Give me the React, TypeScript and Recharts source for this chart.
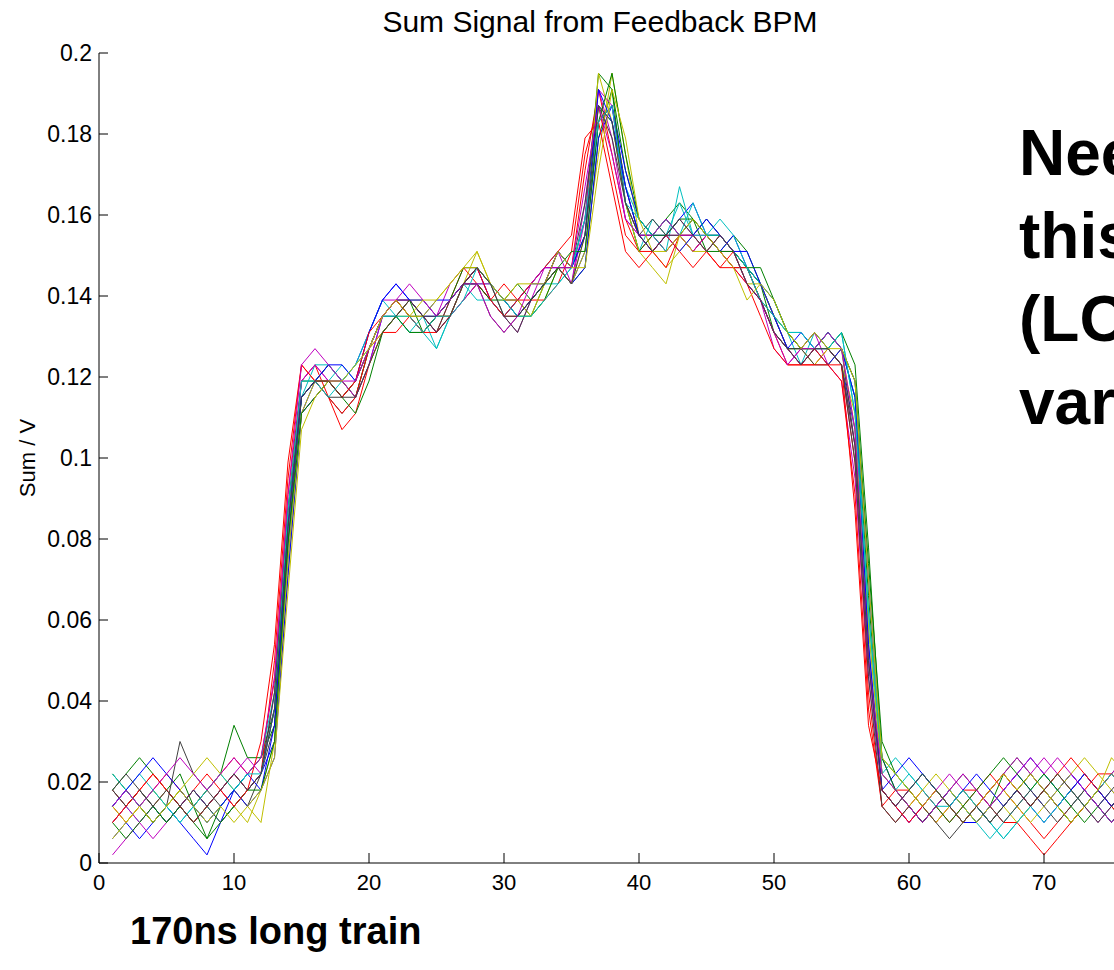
import React from "react";
import { Line, LineChart, XAxis, YAxis } from "recharts";

// bunch index along the train
const sampleIndex = [
  1, 2, 3, 4, 5, 6, 7, 8, 9, 10, 11, 12, 13, 14, 15, 16, 17, 18, 19, 20,
  21, 22, 23, 24, 25, 26, 27, 28, 29, 30, 31, 32, 33, 34, 35, 36, 37, 38, 39, 40,
  41, 42, 43, 44, 45, 46, 47, 48, 49, 50, 51, 52, 53, 54, 55, 56, 57, 58, 59, 60,
  61, 62, 63, 64, 65, 66, 67, 68, 69, 70, 71, 72, 73, 74, 75, 76,
];

// sum signal (V), one array per pulse
const pulse01 = [
  0.010, 0.014, 0.018, 0.014, 0.010, 0.014, 0.018, 0.014, 0.018, 0.022, 0.018,
  0.022, 0.030, 0.075,
  0.111, 0.119, 0.123, 0.119, 0.115, 0.123, 0.135, 0.139, 0.139, 0.135, 0.135, 0.139, 0.143, 0.143, 0.139, 0.135,
  0.139, 0.143, 0.143, 0.147, 0.143, 0.151, 0.183, 0.187, 0.167, 0.155, 0.155, 0.151, 0.155, 0.159, 0.155, 0.155,
  0.151, 0.147, 0.143, 0.135, 0.127, 0.123, 0.127, 0.127, 0.123,
  0.107, 0.050, 0.018,
  0.014, 0.010, 0.014, 0.018, 0.014, 0.010, 0.010, 0.014, 0.018, 0.022, 0.018, 0.014, 0.018, 0.022, 0.018, 0.014, 0.018, 0.014,
];
const pulse02 = [
  0.018, 0.022, 0.026, 0.022, 0.018, 0.022, 0.014, 0.006, 0.014, 0.018, 0.022,
  0.026, 0.034, 0.079,
  0.115, 0.119, 0.119, 0.115, 0.119, 0.127, 0.135, 0.139, 0.135, 0.131, 0.135, 0.135, 0.143, 0.147, 0.143, 0.139,
  0.135, 0.135, 0.143, 0.147, 0.143, 0.147, 0.179, 0.191, 0.171, 0.159, 0.155, 0.159, 0.163, 0.159, 0.151, 0.151,
  0.155, 0.151, 0.143, 0.135, 0.131, 0.127, 0.127, 0.131, 0.127,
  0.115, 0.066, 0.022,
  0.018, 0.014, 0.010, 0.014, 0.018, 0.014, 0.010, 0.014, 0.022, 0.026, 0.022, 0.018, 0.014, 0.018, 0.022, 0.018, 0.014, 0.010,
];
const pulse03 = [
  0.014, 0.010, 0.014, 0.018, 0.022, 0.018, 0.014, 0.018, 0.022, 0.026, 0.022,
  0.026, 0.045, 0.091,
  0.119, 0.123, 0.115, 0.107, 0.111, 0.123, 0.131, 0.135, 0.139, 0.135, 0.131, 0.139, 0.147, 0.143, 0.139, 0.143,
  0.139, 0.139, 0.143, 0.151, 0.147, 0.171, 0.191, 0.175, 0.159, 0.151, 0.155, 0.151, 0.155, 0.155, 0.151, 0.147,
  0.151, 0.143, 0.139, 0.131, 0.127, 0.123, 0.123, 0.127, 0.123,
  0.099, 0.042, 0.014,
  0.018, 0.018, 0.014, 0.010, 0.014, 0.018, 0.018, 0.022, 0.018, 0.014, 0.010, 0.006, 0.010, 0.014, 0.018, 0.022, 0.022, 0.018,
];
const pulse04 = [
  0.018, 0.014, 0.010, 0.014, 0.010, 0.014, 0.018, 0.014, 0.010, 0.014, 0.018,
  0.022, 0.038, 0.083,
  0.115, 0.119, 0.119, 0.123, 0.119, 0.127, 0.135, 0.135, 0.131, 0.135, 0.127, 0.135, 0.139, 0.143, 0.143, 0.139,
  0.135, 0.139, 0.143, 0.143, 0.147, 0.155, 0.187, 0.183, 0.163, 0.151, 0.159, 0.155, 0.163, 0.155, 0.159, 0.155,
  0.151, 0.147, 0.143, 0.135, 0.131, 0.123, 0.131, 0.127, 0.131,
  0.111, 0.058, 0.022,
  0.026, 0.022, 0.018, 0.014, 0.014, 0.018, 0.014, 0.010, 0.006, 0.010, 0.014, 0.018, 0.014, 0.018, 0.022, 0.018, 0.014, 0.018,
];
const pulse05 = [
  0.002, 0.006, 0.010, 0.014, 0.018, 0.014, 0.010, 0.014, 0.018, 0.022, 0.026,
  0.022, 0.042, 0.087,
  0.119, 0.123, 0.119, 0.115, 0.119, 0.131, 0.139, 0.139, 0.135, 0.131, 0.135, 0.143, 0.147, 0.147, 0.139, 0.135,
  0.131, 0.139, 0.147, 0.151, 0.143, 0.163, 0.191, 0.179, 0.159, 0.155, 0.151, 0.155, 0.159, 0.155, 0.155, 0.151,
  0.147, 0.143, 0.139, 0.127, 0.123, 0.127, 0.131, 0.123, 0.119,
  0.095, 0.046, 0.018,
  0.014, 0.010, 0.014, 0.018, 0.022, 0.018, 0.014, 0.010, 0.014, 0.018, 0.022, 0.026, 0.022, 0.018, 0.014, 0.010, 0.014, 0.018,
];
const pulse06 = [
  0.010, 0.014, 0.018, 0.014, 0.018, 0.014, 0.010, 0.014, 0.018, 0.014, 0.010,
  0.018, 0.030, 0.071,
  0.111, 0.115, 0.119, 0.119, 0.115, 0.123, 0.131, 0.135, 0.139, 0.139, 0.135, 0.135, 0.143, 0.151, 0.143, 0.139,
  0.135, 0.135, 0.139, 0.147, 0.143, 0.151, 0.175, 0.195, 0.175, 0.155, 0.151, 0.147, 0.151, 0.155, 0.151, 0.155,
  0.151, 0.147, 0.143, 0.135, 0.127, 0.127, 0.123, 0.127, 0.123,
  0.111, 0.062, 0.026,
  0.022, 0.018, 0.014, 0.010, 0.014, 0.018, 0.014, 0.018, 0.014, 0.010, 0.014, 0.018, 0.022, 0.018, 0.014, 0.018, 0.022, 0.018,
];
const pulse07 = [
  0.014, 0.018, 0.014, 0.010, 0.014, 0.030, 0.022, 0.018, 0.014, 0.018, 0.014,
  0.022, 0.034, 0.079,
  0.115, 0.119, 0.115, 0.111, 0.115, 0.127, 0.135, 0.139, 0.135, 0.135, 0.131, 0.139, 0.143, 0.143, 0.135, 0.131,
  0.135, 0.139, 0.143, 0.147, 0.147, 0.155, 0.183, 0.187, 0.167, 0.155, 0.155, 0.159, 0.155, 0.151, 0.155, 0.151,
  0.147, 0.147, 0.139, 0.131, 0.127, 0.127, 0.123, 0.123, 0.127,
  0.103, 0.054, 0.018,
  0.014, 0.018, 0.014, 0.010, 0.006, 0.010, 0.014, 0.018, 0.022, 0.018, 0.014, 0.018, 0.014, 0.010, 0.014, 0.018, 0.014, 0.018,
];
const pulse08 = [
  0.006, 0.010, 0.006, 0.010, 0.014, 0.010, 0.006, 0.002, 0.010, 0.018, 0.022,
  0.018, 0.026, 0.071,
  0.111, 0.115, 0.119, 0.119, 0.123, 0.131, 0.139, 0.143, 0.139, 0.135, 0.139, 0.139, 0.143, 0.147, 0.139, 0.135,
  0.139, 0.143, 0.147, 0.147, 0.143, 0.147, 0.179, 0.187, 0.171, 0.159, 0.155, 0.155, 0.159, 0.163, 0.155, 0.151,
  0.155, 0.147, 0.143, 0.139, 0.131, 0.127, 0.127, 0.131, 0.127,
  0.119, 0.070, 0.026,
  0.018, 0.014, 0.010, 0.014, 0.018, 0.014, 0.010, 0.014, 0.018, 0.022, 0.026, 0.022, 0.018, 0.022, 0.018, 0.014, 0.010, 0.014,
];
const pulse09 = [
  0.022, 0.018, 0.014, 0.010, 0.014, 0.018, 0.014, 0.018, 0.022, 0.034, 0.026,
  0.026, 0.038, 0.087,
  0.119, 0.119, 0.123, 0.119, 0.115, 0.127, 0.135, 0.139, 0.139, 0.131, 0.135, 0.139, 0.147, 0.147, 0.143, 0.139,
  0.139, 0.135, 0.139, 0.147, 0.147, 0.159, 0.195, 0.191, 0.163, 0.151, 0.155, 0.159, 0.155, 0.159, 0.155, 0.155,
  0.151, 0.147, 0.143, 0.131, 0.127, 0.127, 0.127, 0.131, 0.127,
  0.119, 0.074, 0.030,
  0.022, 0.018, 0.022, 0.018, 0.014, 0.010, 0.014, 0.010, 0.014, 0.018, 0.022, 0.018, 0.014, 0.010, 0.014, 0.018, 0.022, 0.026,
];
const pulse10 = [
  0.018, 0.014, 0.018, 0.022, 0.018, 0.014, 0.018, 0.022, 0.018, 0.022, 0.018,
  0.022, 0.050, 0.095,
  0.123, 0.119, 0.115, 0.111, 0.115, 0.127, 0.131, 0.131, 0.135, 0.131, 0.135, 0.135, 0.139, 0.143, 0.139, 0.135,
  0.135, 0.139, 0.139, 0.143, 0.151, 0.175, 0.187, 0.171, 0.155, 0.151, 0.151, 0.147, 0.155, 0.151, 0.155, 0.151,
  0.147, 0.147, 0.139, 0.131, 0.123, 0.123, 0.123, 0.123, 0.119,
  0.091, 0.038, 0.014,
  0.010, 0.014, 0.018, 0.014, 0.010, 0.014, 0.018, 0.014, 0.010, 0.010, 0.006, 0.002, 0.006, 0.010, 0.014, 0.018, 0.014, 0.010,
];
const pulse11 = [
  0.014, 0.018, 0.022, 0.018, 0.014, 0.010, 0.014, 0.010, 0.014, 0.018, 0.022,
  0.026, 0.042, 0.083,
  0.115, 0.123, 0.123, 0.119, 0.123, 0.131, 0.139, 0.135, 0.131, 0.131, 0.127, 0.135, 0.143, 0.139, 0.139, 0.135,
  0.139, 0.143, 0.147, 0.151, 0.147, 0.159, 0.187, 0.183, 0.167, 0.159, 0.155, 0.151, 0.167, 0.155, 0.155, 0.159,
  0.155, 0.147, 0.143, 0.139, 0.131, 0.131, 0.127, 0.131, 0.127,
  0.115, 0.062, 0.022,
  0.018, 0.022, 0.018, 0.014, 0.018, 0.014, 0.010, 0.006, 0.010, 0.014, 0.018, 0.022, 0.018, 0.014, 0.018, 0.014, 0.010, 0.014,
];
const pulse12 = [
  0.010, 0.014, 0.010, 0.006, 0.010, 0.014, 0.018, 0.014, 0.018, 0.014, 0.018,
  0.022, 0.038, 0.083,
  0.119, 0.123, 0.119, 0.119, 0.115, 0.123, 0.135, 0.139, 0.139, 0.135, 0.131, 0.135, 0.139, 0.143, 0.143, 0.139,
  0.139, 0.143, 0.147, 0.147, 0.143, 0.159, 0.191, 0.187, 0.163, 0.155, 0.151, 0.155, 0.155, 0.151, 0.155, 0.151,
  0.151, 0.143, 0.139, 0.131, 0.127, 0.123, 0.127, 0.127, 0.123,
  0.103, 0.050, 0.018,
  0.014, 0.018, 0.022, 0.018, 0.014, 0.010, 0.014, 0.018, 0.022, 0.026, 0.022, 0.018, 0.014, 0.018, 0.022, 0.018, 0.022, 0.026,
];
const pulse13 = [
  0.014, 0.010, 0.014, 0.018, 0.014, 0.018, 0.022, 0.026, 0.022, 0.018, 0.014,
  0.010, 0.030, 0.075,
  0.111, 0.119, 0.119, 0.115, 0.119, 0.127, 0.131, 0.135, 0.135, 0.135, 0.139, 0.143, 0.147, 0.151, 0.143, 0.139,
  0.139, 0.135, 0.143, 0.147, 0.143, 0.155, 0.195, 0.183, 0.163, 0.151, 0.147, 0.143, 0.155, 0.151, 0.151, 0.155,
  0.151, 0.143, 0.143, 0.135, 0.131, 0.127, 0.127, 0.123, 0.127,
  0.107, 0.058, 0.022,
  0.018, 0.014, 0.018, 0.022, 0.018, 0.014, 0.010, 0.014, 0.018, 0.014, 0.010, 0.014, 0.018, 0.022, 0.026, 0.022, 0.018, 0.014,
];
const pulse14 = [
  0.018, 0.014, 0.018, 0.014, 0.010, 0.014, 0.018, 0.014, 0.010, 0.014, 0.018,
  0.022, 0.042, 0.087,
  0.115, 0.119, 0.115, 0.115, 0.119, 0.127, 0.135, 0.135, 0.139, 0.135, 0.135, 0.139, 0.143, 0.147, 0.143, 0.135,
  0.131, 0.139, 0.143, 0.151, 0.147, 0.163, 0.187, 0.179, 0.163, 0.155, 0.159, 0.155, 0.155, 0.155, 0.159, 0.155,
  0.151, 0.147, 0.139, 0.135, 0.127, 0.127, 0.131, 0.127, 0.123,
  0.099, 0.046, 0.014,
  0.010, 0.014, 0.010, 0.014, 0.018, 0.022, 0.018, 0.014, 0.010, 0.014, 0.018, 0.014, 0.010, 0.014, 0.018, 0.014, 0.018, 0.022,
];
const pulse15 = [
  0.014, 0.018, 0.022, 0.026, 0.022, 0.018, 0.014, 0.010, 0.014, 0.018, 0.014,
  0.018, 0.034, 0.083,
  0.115, 0.119, 0.123, 0.123, 0.119, 0.131, 0.139, 0.143, 0.139, 0.139, 0.135, 0.139, 0.143, 0.147, 0.143, 0.139,
  0.135, 0.139, 0.143, 0.151, 0.147, 0.155, 0.191, 0.183, 0.167, 0.155, 0.151, 0.155, 0.151, 0.155, 0.159, 0.155,
  0.151, 0.151, 0.143, 0.135, 0.127, 0.131, 0.127, 0.123, 0.127,
  0.115, 0.054, 0.018,
  0.022, 0.026, 0.022, 0.018, 0.014, 0.018, 0.022, 0.018, 0.014, 0.018, 0.014, 0.010, 0.014, 0.018, 0.022, 0.018, 0.014, 0.018,
];
const pulse16 = [
  0.010, 0.006, 0.010, 0.014, 0.010, 0.014, 0.010, 0.006, 0.010, 0.014, 0.018,
  0.018, 0.030, 0.079,
  0.111, 0.115, 0.119, 0.115, 0.111, 0.119, 0.131, 0.135, 0.131, 0.131, 0.135, 0.139, 0.143, 0.143, 0.139, 0.139,
  0.143, 0.139, 0.143, 0.147, 0.151, 0.151, 0.183, 0.195, 0.175, 0.159, 0.155, 0.155, 0.159, 0.159, 0.155, 0.151,
  0.151, 0.147, 0.147, 0.139, 0.131, 0.127, 0.127, 0.127, 0.131,
  0.123, 0.078, 0.026,
  0.018, 0.014, 0.010, 0.014, 0.010, 0.014, 0.018, 0.022, 0.026, 0.022, 0.018, 0.022, 0.018, 0.014, 0.010, 0.014, 0.010, 0.014,
];
const pulse17 = [
  0.010, 0.014, 0.018, 0.022, 0.018, 0.014, 0.010, 0.014, 0.018, 0.014, 0.018,
  0.030, 0.054, 0.099,
  0.123, 0.119, 0.119, 0.115, 0.119, 0.131, 0.135, 0.139, 0.135, 0.131, 0.131, 0.135, 0.143, 0.147, 0.139, 0.135,
  0.139, 0.143, 0.147, 0.151, 0.155, 0.179, 0.183, 0.167, 0.151, 0.147, 0.151, 0.155, 0.151, 0.147, 0.151, 0.147,
  0.147, 0.143, 0.135, 0.127, 0.123, 0.123, 0.127, 0.123, 0.123,
  0.087, 0.034, 0.018,
  0.014, 0.010, 0.014, 0.018, 0.014, 0.010, 0.014, 0.018, 0.022, 0.018, 0.014, 0.018, 0.022, 0.026, 0.022, 0.018, 0.022, 0.018,
];
const pulse18 = [
  0.022, 0.018, 0.014, 0.018, 0.014, 0.010, 0.014, 0.018, 0.022, 0.018, 0.022,
  0.022, 0.038, 0.087,
  0.119, 0.119, 0.115, 0.119, 0.123, 0.127, 0.135, 0.135, 0.135, 0.131, 0.135, 0.135, 0.139, 0.147, 0.143, 0.139,
  0.135, 0.135, 0.139, 0.143, 0.147, 0.159, 0.183, 0.187, 0.163, 0.159, 0.155, 0.159, 0.155, 0.163, 0.155, 0.155,
  0.151, 0.147, 0.139, 0.135, 0.131, 0.131, 0.127, 0.127, 0.131,
  0.111, 0.062, 0.026,
  0.022, 0.018, 0.022, 0.018, 0.014, 0.018, 0.014, 0.010, 0.006, 0.010, 0.014, 0.010, 0.014, 0.018, 0.014, 0.018, 0.022, 0.018,
];
const pulse19 = [
  0.014, 0.018, 0.014, 0.018, 0.022, 0.026, 0.022, 0.018, 0.022, 0.026, 0.022,
  0.026, 0.046, 0.091,
  0.123, 0.127, 0.123, 0.119, 0.119, 0.127, 0.135, 0.139, 0.143, 0.139, 0.135, 0.139, 0.143, 0.143, 0.135, 0.131,
  0.135, 0.143, 0.147, 0.147, 0.147, 0.167, 0.187, 0.175, 0.159, 0.155, 0.155, 0.159, 0.155, 0.155, 0.151, 0.155,
  0.151, 0.143, 0.139, 0.131, 0.123, 0.127, 0.127, 0.131, 0.127,
  0.107, 0.050, 0.022,
  0.018, 0.014, 0.010, 0.014, 0.018, 0.022, 0.018, 0.014, 0.018, 0.022, 0.026, 0.022, 0.026, 0.022, 0.018, 0.014, 0.010, 0.014,
];
const pulse20 = [
  0.006, 0.010, 0.014, 0.010, 0.014, 0.018, 0.014, 0.010, 0.014, 0.010, 0.014,
  0.018, 0.026, 0.067,
  0.107, 0.115, 0.119, 0.119, 0.123, 0.127, 0.135, 0.139, 0.135, 0.139, 0.139, 0.143, 0.147, 0.147, 0.143, 0.139,
  0.143, 0.143, 0.143, 0.151, 0.147, 0.147, 0.171, 0.191, 0.179, 0.159, 0.151, 0.151, 0.155, 0.159, 0.155, 0.151,
  0.147, 0.139, 0.143, 0.139, 0.131, 0.127, 0.131, 0.127, 0.127,
  0.119, 0.070, 0.026,
  0.022, 0.018, 0.014, 0.018, 0.014, 0.010, 0.014, 0.018, 0.022, 0.018, 0.022, 0.018, 0.014, 0.010, 0.014, 0.018, 0.026, 0.022,
];
const pulse21 = [
  0.018, 0.022, 0.018, 0.014, 0.018, 0.014, 0.010, 0.014, 0.018, 0.022, 0.018,
  0.022, 0.038, 0.083,
  0.115, 0.119, 0.119, 0.115, 0.115, 0.123, 0.131, 0.135, 0.139, 0.135, 0.131, 0.135, 0.143, 0.147, 0.143, 0.135,
  0.135, 0.139, 0.143, 0.147, 0.143, 0.155, 0.187, 0.183, 0.163, 0.155, 0.151, 0.155, 0.159, 0.155, 0.151, 0.155,
  0.151, 0.143, 0.139, 0.131, 0.127, 0.123, 0.127, 0.127, 0.123,
  0.103, 0.050, 0.018,
  0.014, 0.018, 0.022, 0.018, 0.014, 0.010, 0.014, 0.010, 0.014, 0.018, 0.014, 0.018, 0.022, 0.018, 0.014, 0.010, 0.014, 0.018,
];

const pulses = [
  pulse01, pulse02, pulse03, pulse04, pulse05, pulse06, pulse07,
  pulse08, pulse09, pulse10, pulse11, pulse12, pulse13, pulse14,
  pulse15, pulse16, pulse17, pulse18, pulse19, pulse20, pulse21,
];

// matlab default line colour order
const lineColors = ["#0000ff", "#008000", "#ff0000", "#00bfbf", "#bf00bf", "#bfbf00", "#404040"];

const xTicks = [0, 10, 20, 30, 40, 50, 60, 70, 80];
const yTicks = [0, 0.02, 0.04, 0.06, 0.08, 0.1, 0.12, 0.14, 0.16, 0.18, 0.2];
const yTickLabels = ["0", "0.02", "0.04", "0.06", "0.08", "0.1", "0.12", "0.14", "0.16", "0.18", "0.2"];

const noteLines = ["Nee", "this", "(LO", "var"];

const font = '"Liberation Sans", Arial, Helvetica, sans-serif';

const rows = sampleIndex.map((x, i) => {
  const row: Record<string, number> = { x };
  pulses.forEach((p, k) => {
    row["p" + k] = p[i];
  });
  return row;
});

function YTick(props: any) {
  const { x, y, index } = props;
  return (
    <g>
      <line x1={x} x2={x + 9} y1={y} y2={y} stroke="#000" />
      <text x={x - 7} y={y + 8} textAnchor="end" fontSize={23} fontFamily={font} fill="#000">
        {yTickLabels[index]}
      </text>
    </g>
  );
}

function XTick(props: any) {
  const { x, y, payload } = props;
  return (
    <g>
      <line x1={x} x2={x} y1={y} y2={y - 10} stroke="#000" />
      <text x={x} y={y + 27} textAnchor="middle" fontSize={22} fontFamily={font} fill="#000">
        {payload.value}
      </text>
    </g>
  );
}

export default function App() {
  return (
    <div
      style={{
        position: "absolute",
        left: 0,
        top: 0,
        width: 1114,
        height: 970,
        overflow: "hidden",
        background: "#fff",
        fontFamily: font,
      }}
    >
      <LineChart
        width={1190}
        height={970}
        data={rows}
        margin={{ top: 53, right: 11, bottom: 67, left: 0 }}
      >
        <XAxis
          dataKey="x"
          type="number"
          domain={[0, 80]}
          ticks={xTicks}
          height={40}
          tickSize={0}
          tickMargin={0}
          tickLine={false}
          axisLine={{ stroke: "#000" }}
          tick={<XTick />}
          allowDataOverflow
        />
        <YAxis
          type="number"
          domain={[0, 0.2]}
          ticks={yTicks}
          width={99}
          tickSize={0}
          tickMargin={0}
          tickLine={false}
          axisLine={{ stroke: "#000" }}
          tick={<YTick />}
          interval={0}
        />
        {pulses.map((_, k) => (
          <Line
            key={k}
            type="linear"
            dataKey={"p" + k}
            stroke={lineColors[k % lineColors.length]}
            strokeWidth={1}
            dot={false}
            isAnimationActive={false}
          />
        ))}
      </LineChart>

      <div
        style={{
          position: "absolute",
          left: 600,
          top: 6,
          fontSize: 30,
          lineHeight: "32px",
          whiteSpace: "nowrap",
          transform: "translateX(-50%)",
        }}
      >
        Sum Signal from Feedback BPM
      </div>

      <div
        style={{
          position: "absolute",
          left: 28,
          top: 458,
          fontSize: 22,
          whiteSpace: "nowrap",
          transform: "translate(-50%, -50%) rotate(-90deg)",
        }}
      >
        Sum / V
      </div>

      {noteLines.map((t, i) => (
        <div
          key={t}
          style={{
            position: "absolute",
            left: 1019,
            top: 118 + i * 83,
            fontSize: 64,
            fontWeight: "bold",
            lineHeight: "70px",
            whiteSpace: "nowrap",
          }}
        >
          {t}
        </div>
      ))}

      <div
        style={{
          position: "absolute",
          left: 130,
          top: 906,
          fontSize: 38,
          fontWeight: "bold",
          lineHeight: "50px",
          whiteSpace: "nowrap",
        }}
      >
        170ns long train
      </div>
    </div>
  );
}
